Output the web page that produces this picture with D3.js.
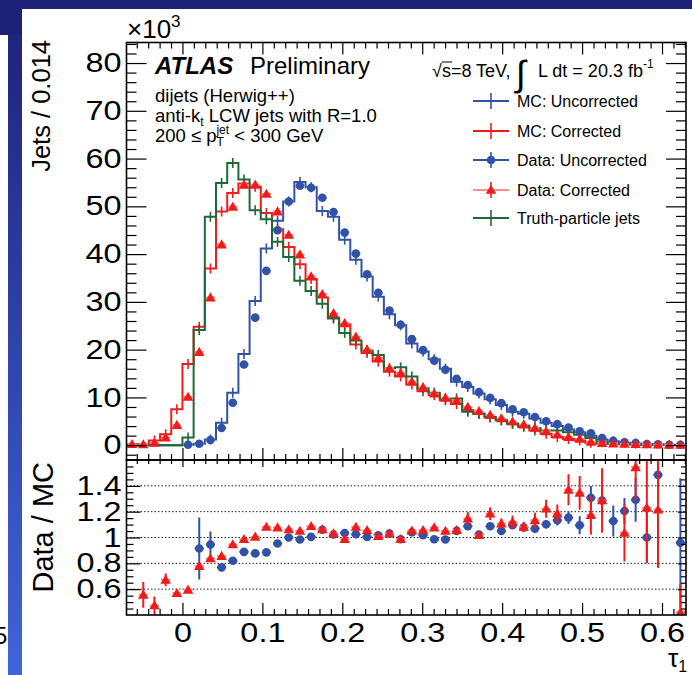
<!DOCTYPE html>
<html><head><meta charset="utf-8">
<script src="https://cdnjs.cloudflare.com/ajax/libs/d3/7.8.5/d3.min.js"></script>
<style>
body{margin:0;background:#fff;}
svg text{font-family:"Liberation Sans",Arial,Helvetica,sans-serif;fill:#000;}
</style></head><body>
<svg id="c" width="692" height="675"></svg>
<script>
// ---------------- data ----------------
const tau1 = [-0.063,-0.049,-0.035,-0.021,-0.007,0.007,0.021,0.035,0.049,0.063,
  0.077,0.091,0.105,0.119,0.133,0.147,0.161,0.175,0.189,0.203,
  0.217,0.231,0.245,0.259,0.273,0.287,0.301,0.315,0.329,0.343,
  0.357,0.371,0.385,0.399,0.413,0.427,0.441,0.455,0.469,0.483,
  0.497,0.511,0.525,0.539,0.553,0.567,0.581,0.595,0.609,0.623];
const BIN_W = 0.014;
// values in units of 10^3 jets
const mcUncorrected = [0,0,0,0,0,0.1,0.3,1.2,4.7,11.0,
  19.1,30.2,41.2,47.0,51.0,55.1,54.0,49.0,47.8,43.0,
  38.8,35.3,31.1,27.4,25.1,21.3,19.6,18.0,16.0,13.3,
  12.2,10.8,9.6,8.4,7.0,6.6,5.6,4.7,4.0,3.3,
  2.7,2.0,1.2,0.8,0.5,0.35,0.25,0.15,0.1,0.1];
const mcCorrected = [0.2,0.2,1.0,2.3,7.5,17.0,24.8,37.0,48.9,52.8,
  54.8,54.1,48.6,45.2,41.5,37.9,34.8,30.9,26.7,25.3,
  21.1,19.3,17.5,15.4,14.4,12.7,11.3,10.5,9.4,8.6,
  7.3,6.6,5.8,5.2,4.5,3.8,3.1,2.4,1.7,1.3,
  1.0,0.5,0.3,0.25,0.2,0.15,0.1,0.1,0.05,0.05];
const dataUncorrected = [null,null,null,null,null,0.1,0.3,1.1,3.6,8.9,
  16.9,26.7,36.5,45.0,51.0,54.3,53.9,51.8,48.8,44.5,
  40.1,35.8,31.9,28.2,25.2,22.2,19.9,17.7,15.8,13.9,
  12.6,11.1,9.9,8.8,7.5,6.9,5.9,5.0,4.4,3.7,
  2.9,2.5,1.5,0.9,0.6,0.45,0.25,0.2,0.1,0.1];
const dataCorrected = [0.2,0.15,0.5,1.6,4.2,10.1,19.5,30.9,42.0,49.9,
  54.5,54.5,52.6,48.9,44.0,39.9,35.3,31.6,27.6,25.5,
  22.7,20.0,18.2,16.1,15.1,13.3,12.1,10.8,9.9,9.4,
  8.0,7.1,6.3,5.6,4.9,4.3,3.6,2.9,2.2,1.7,
  1.3,0.7,0.4,0.3,0.25,0.2,0.15,0.1,0.08,0.05];
const truthJets = [0,0,0,0,0,1.6,24.1,47.8,54.9,59.1,
  55.6,49.2,47.3,42.6,39.4,34.4,32.3,29.6,26.5,23.5,
  21.9,19.8,18.9,16.1,16.3,14.4,11.9,11.0,9.8,9.8,
  7.0,6.6,5.9,5.2,4.5,4.1,3.6,3.1,3.1,2.7,
  2.2,1.5,0.6,0.3,0.2,0.15,0.1,0.08,0.05,0.05];
// Data / MC ratios
const ratioUncorrected = [null,null,null,null,null,null,0.915,0.946,0.769,0.82,
  0.889,0.877,0.885,0.954,1.0,0.985,1.005,1.06,1.023,1.035,
  1.025,1.005,1.018,1.03,0.987,1.04,1.018,0.987,0.985,1.051,
  1.087,1.023,1.087,1.051,1.095,1.077,1.069,1.102,1.133,1.154,
  1.095,1.308,1.287,1.128,1.205,1.292,1.0,1.485,null,0.959];
const ratioUncorrectedErr = [0,0,0,0,0,0,0.24,0.1,0.03,0.02,
  0.01,0.01,0.01,0.01,0.01,0.01,0.01,0.01,0.01,0.01,
  0.01,0.01,0.01,0.01,0.01,0.01,0.01,0.01,0.01,0.01,
  0.01,0.01,0.015,0.015,0.015,0.02,0.02,0.03,0.04,0.05,
  0.07,0.09,0.1,0.12,0.1,0.17,0.2,0.03,0,0.5];
const ratioCorrected = [null,0.556,0.474,0.672,0.569,0.595,0.779,0.838,0.856,0.946,
  0.987,1.005,1.082,1.077,1.062,1.051,1.087,1.062,1.031,0.987,
  1.082,1.056,1.01,1.031,0.987,1.053,1.056,1.077,1.051,1.056,
  1.146,1.018,1.185,1.108,1.12,1.082,1.133,1.223,1.185,1.369,
  1.346,1.172,1.287,null,1.035,1.543,1.231,1.215,null,0.42];
const ratioCorrectedErr = [0,0.1,0.07,0.05,0.02,0.02,0.02,0.015,0.015,0.015,
  0.015,0.015,0.015,0.015,0.015,0.015,0.015,0.015,0.015,0.015,
  0.015,0.015,0.015,0.015,0.015,0.02,0.02,0.02,0.02,0.03,
  0.05,0.03,0.05,0.04,0.05,0.04,0.06,0.07,0.07,0.12,
  0.13,0.15,0.25,0,0.22,0.25,0.42,0.45,0,0.22];
const xTicks = [0,0.1,0.2,0.3,0.4,0.5,0.6];
const xTickLabels = ["0","0.1","0.2","0.3","0.4","0.5","0.6"];
const yTicks = [0,10,20,30,40,50,60,70,80];
const yTickLabels = ["0","10","20","30","40","50","60","70","80"];
const ratioTicks = [0.6,0.8,1.0,1.2,1.4];
const ratioTickLabels = ["0.6","0.8","1","1.2","1.4"];
const legendLabels = ["MC: Uncorrected","MC: Corrected","Data: Uncorrected","Data: Corrected","Truth-particle jets"];

// ---------------- layout ----------------
const W = 692, H = 675;
const L = 126.5, R = 686, T = 42.5, MB = 460, RB = 615;
const BLUE = "#3152a6", BLUE_L = "#8ea4d9", RED = "#f01c1c", RED_L = "#ff8c8c", GREEN = "#1d6a36";

const x = d3.scaleLinear([-0.07, 0.63], [L, R]);
const yMain = d3.scaleLinear([-3.1, 84.3], [MB, T]);
const yRatio = d3.scaleLinear([0.4, 1.6], [RB, MB]);

const svg = d3.select("#c");
const defs = svg.append("defs");
const grad = defs.append("linearGradient").attr("id","strip").attr("x1",0).attr("y1",0).attr("x2",0).attr("y2",1);
grad.append("stop").attr("offset","0%").attr("stop-color","#1e2178");
grad.append("stop").attr("offset","100%").attr("stop-color","#4064d8");
defs.append("clipPath").attr("id","clipMain").append("rect").attr("x",L).attr("y",T).attr("width",R-L).attr("height",MB-T);
defs.append("clipPath").attr("id","clipRatio").append("rect").attr("x",L).attr("y",MB).attr("width",R-L).attr("height",RB-MB);

// slide decorations
svg.append("rect").attr("x",8).attr("y",0).attr("width",14).attr("height",H).attr("fill","url(#strip)");
svg.append("rect").attr("x",0).attr("y",0).attr("width",W).attr("height",9).attr("fill","#1e2178");
svg.append("rect").attr("x",0).attr("y",0).attr("width",22).attr("height",35).attr("fill","#1e2178");
svg.append("text").attr("x",-6).attr("y",644).attr("font-size",24).text("5");

function stretch(sel, k){
  sel.each(function(){
    const t = d3.select(this);
    const xx = +t.attr("x") || 0, yy = +t.attr("y") || 0;
    t.attr("transform", `translate(${xx},${yy}) scale(${k},1) translate(${-xx},${-yy})`);
  });
}

// ---------------- main panel ----------------
const gm = svg.append("g").attr("clip-path","url(#clipMain)");
function stepPath(vals){
  let p = "";
  tau1.forEach((c,i)=>{
    const x0 = x(c-BIN_W/2), x1 = x(c+BIN_W/2), yy = yMain(vals[i]);
    p += (i===0 ? `M${x0},${yy}` : `V${yy}`) + `H${x1}`;
  });
  return p;
}
function drawHist(vals, color){
  gm.append("path").attr("d", stepPath(vals)).attr("fill","none").attr("stroke",color).attr("stroke-width",2);
  gm.append("g").selectAll("line").data(tau1.map((c,i)=>({c,v:vals[i]})).filter(d=>d.v>0.3))
    .join("line").attr("x1",d=>x(d.c)).attr("x2",d=>x(d.c))
    .attr("y1",d=>yMain(d.v)-5).attr("y2",d=>yMain(d.v)+5)
    .attr("stroke",color).attr("stroke-width",1.6);
}
drawHist(mcUncorrected, BLUE);
drawHist(mcCorrected, RED);
drawHist(truthJets, GREEN);

const tri = d3.symbol().type(d3.symbolTriangle).size(48);
function drawData(g, ys, vals, errs, color, lightColor, marker){
  const pts = tau1.map((c,i)=>({c, v:vals[i], e:errs? errs[i]:0})).filter(d=>d.v!==null);
  g.append("g").selectAll("line").data(pts).join("line")
    .attr("x1",d=>x(d.c-BIN_W/2)+1).attr("x2",d=>x(d.c+BIN_W/2)-1)
    .attr("y1",d=>ys(d.v)).attr("y2",d=>ys(d.v))
    .attr("stroke",lightColor).attr("stroke-width",2);
  g.append("g").selectAll("line").data(pts.filter(d=>d.e>0)).join("line")
    .attr("x1",d=>x(d.c)).attr("x2",d=>x(d.c))
    .attr("y1",d=>ys(d.v+d.e)).attr("y2",d=>ys(d.v-d.e))
    .attr("stroke",color).attr("stroke-width",2);
  if(marker==="circle"){
    g.append("g").selectAll("circle").data(pts).join("circle")
      .attr("cx",d=>x(d.c)).attr("cy",d=>ys(d.v)).attr("r",4.3).attr("fill",color);
  } else {
    g.append("g").selectAll("path").data(pts).join("path")
      .attr("d",tri).attr("transform",d=>`translate(${x(d.c)},${ys(d.v)+0.8})`).attr("fill",color);
  }
}
drawData(gm, yMain, dataUncorrected, null, BLUE, BLUE_L, "circle");
drawData(gm, yMain, dataCorrected, null, RED, RED_L, "triangle");

// ---------------- ratio panel ----------------
const gr = svg.append("g").attr("clip-path","url(#clipRatio)");
gr.append("g").selectAll("line").data(ratioTicks).join("line")
  .attr("x1",L).attr("x2",R).attr("y1",d=>yRatio(d)).attr("y2",d=>yRatio(d))
  .attr("stroke","#222").attr("stroke-width",1).attr("stroke-dasharray","1.5,2");
drawData(gr, yRatio, ratioUncorrected, ratioUncorrectedErr, BLUE, BLUE, "circle");
drawData(gr, yRatio, ratioCorrected, ratioCorrectedErr, RED, RED_L, "triangle");

// ---------------- axes ----------------
function axisG(gen){
  const g = svg.append("g").call(gen);
  g.select(".domain").remove();
  g.selectAll("line").attr("stroke","#000").attr("stroke-width",1.2);
  return g;
}
const xMinor = d3.range(-4,45).filter(k=>k%7!==0).map(k=>k/70);
const yMinor = d3.range(-2,85,2).filter(v=>v%10!==0);
const rMinor = d3.range(9,32).map(k=>k*0.05).filter(v=>Math.abs(v*5-Math.round(v*5))>1e-6);

// main panel x ticks (top and bottom, inside)
axisG(d3.axisTop(x).tickValues(xTicks).tickSize(-12).tickFormat("")).attr("transform",`translate(0,${T})`);
axisG(d3.axisTop(x).tickValues(xMinor).tickSize(-6).tickFormat("")).attr("transform",`translate(0,${T})`);
axisG(d3.axisBottom(x).tickValues(xTicks).tickSize(-12).tickFormat("")).attr("transform",`translate(0,${MB})`);
axisG(d3.axisBottom(x).tickValues(xMinor).tickSize(-6).tickFormat("")).attr("transform",`translate(0,${MB})`);
// ratio x ticks
axisG(d3.axisTop(x).tickValues(xTicks).tickSize(-7).tickFormat("")).attr("transform",`translate(0,${MB})`);
axisG(d3.axisTop(x).tickValues(xMinor).tickSize(-4).tickFormat("")).attr("transform",`translate(0,${MB})`);
const xb = axisG(d3.axisBottom(x).tickValues(xTicks).tickSize(-12).tickPadding(8).tickFormat((d,i)=>xTickLabels[i])).attr("transform",`translate(0,${RB})`);
axisG(d3.axisBottom(x).tickValues(xMinor).tickSize(-6).tickFormat("")).attr("transform",`translate(0,${RB})`);
xb.selectAll("text").attr("font-size",27).attr("font-family","Liberation Sans, Arial, sans-serif");
stretch(xb.selectAll("text"), 1.2);

// main y ticks
const yl = axisG(d3.axisLeft(yMain).tickValues(yTicks).tickSize(-20).tickPadding(5).tickFormat((d,i)=>yTickLabels[i])).attr("transform",`translate(${L},0)`);
yl.selectAll("text").attr("font-size",27).attr("font-family","Liberation Sans, Arial, sans-serif");
stretch(yl.selectAll("text"), 1.2);
axisG(d3.axisLeft(yMain).tickValues(yMinor).tickSize(-10).tickFormat("")).attr("transform",`translate(${L},0)`);
axisG(d3.axisRight(yMain).tickValues(yTicks).tickSize(-20).tickFormat("")).attr("transform",`translate(${R},0)`);
axisG(d3.axisRight(yMain).tickValues(yMinor).tickSize(-10).tickFormat("")).attr("transform",`translate(${R},0)`);

// ratio y ticks
const rl = axisG(d3.axisLeft(yRatio).tickValues(ratioTicks).tickSize(-14).tickPadding(5).tickFormat((d,i)=>ratioTickLabels[i])).attr("transform",`translate(${L},0)`);
rl.selectAll("text").attr("font-size",27).attr("font-family","Liberation Sans, Arial, sans-serif");
stretch(rl.selectAll("text"), 1.2);
axisG(d3.axisLeft(yRatio).tickValues(rMinor).tickSize(-7).tickFormat("")).attr("transform",`translate(${L},0)`);
axisG(d3.axisRight(yRatio).tickValues(ratioTicks).tickSize(-8).tickFormat("")).attr("transform",`translate(${R},0)`);
axisG(d3.axisRight(yRatio).tickValues(rMinor).tickSize(-5).tickFormat("")).attr("transform",`translate(${R},0)`);

// frames
svg.append("rect").attr("x",L).attr("y",T).attr("width",R-L).attr("height",MB-T).attr("fill","none").attr("stroke","#000").attr("stroke-width",1.6);
svg.append("rect").attr("x",L).attr("y",MB).attr("width",R-L).attr("height",RB-MB).attr("fill","none").attr("stroke","#000").attr("stroke-width",1.6);

// axis titles
svg.append("text").attr("transform","translate(50,40) rotate(-90)").attr("text-anchor","end").attr("font-size",25.5).text("Jets / 0.014");
svg.append("text").attr("transform","translate(53,462) rotate(-90)").attr("text-anchor","end").attr("font-size",29).text("Data / MC");
const xt = svg.append("text").attr("x",127).attr("y",38).attr("font-size",26);
xt.append("tspan").text("×10");
xt.append("tspan").attr("font-size",17).attr("dy",-11).text("3");
const tt = svg.append("text").attr("x",668).attr("y",667).attr("font-size",26);
tt.append("tspan").text("τ");
tt.append("tspan").attr("font-size",16).attr("dy",5).text("1");

// ATLAS labels
svg.append("text").attr("x",155).attr("y",74).attr("font-size",24).attr("font-weight","bold").attr("font-style","italic").text("ATLAS");
svg.append("text").attr("x",250).attr("y",74).attr("font-size",24).text("Preliminary");
svg.append("text").attr("x",155).attr("y",102).attr("font-size",18.5).text("dijets (Herwig++)");
const l2 = svg.append("text").attr("x",155).attr("y",122).attr("font-size",18.5);
l2.append("tspan").text("anti-k");
l2.append("tspan").attr("font-size",12).attr("dy",4).text("t");
l2.append("tspan").attr("dy",-4).text(" LCW jets with R=1.0");
const l3 = svg.append("text").attr("x",155).attr("y",142).attr("font-size",18.5);
l3.append("tspan").text("200 ≤ p");
l3.append("tspan").attr("font-size",12).attr("dy",4).text("T");
l3.append("tspan").attr("font-size",12).attr("dy",-12).attr("dx",-7.5).text("jet");
l3.append("tspan").attr("dy",8).text(" < 300 GeV");

// energy / luminosity
const e1 = svg.append("text").attr("x",432).attr("y",77).attr("font-size",18);
e1.append("tspan").text("√s=8 TeV,");
svg.append("line").attr("x1",442).attr("x2",452).attr("y1",62).attr("y2",62).attr("stroke","#000").attr("stroke-width",1);
svg.append("text").attr("x",516).attr("y",86).attr("font-size",36).attr("font-family","DejaVu Sans").text("∫");
const e2 = svg.append("text").attr("x",538).attr("y",77).attr("font-size",18);
e2.append("tspan").text("L dt = 20.3 fb");
e2.append("tspan").attr("font-size",12).attr("dy",-9).text("-1");

// legend
const legY = [101,131,160,190,218];
const legColors = [BLUE, RED, BLUE, RED, GREEN];
const legH = [BLUE, RED, BLUE, RED_L, GREEN];
const lg = svg.append("g");
legendLabels.forEach((lab,i)=>{
  const cy = legY[i];
  lg.append("line").attr("x1",473).attr("x2",509).attr("y1",cy).attr("y2",cy).attr("stroke",legH[i]).attr("stroke-width",2);
  lg.append("line").attr("x1",491).attr("x2",491).attr("y1",cy-8).attr("y2",cy+8).attr("stroke",legColors[i]).attr("stroke-width",1.6);
  if(i===2) lg.append("circle").attr("cx",491).attr("cy",cy).attr("r",4.3).attr("fill",BLUE);
  if(i===3) lg.append("path").attr("d",tri).attr("transform",`translate(491,${cy+0.8})`).attr("fill",RED);
  lg.append("text").attr("x",517).attr("y",cy+5.5).attr("font-size",16).text(lab);
});
</script>
</body></html>
